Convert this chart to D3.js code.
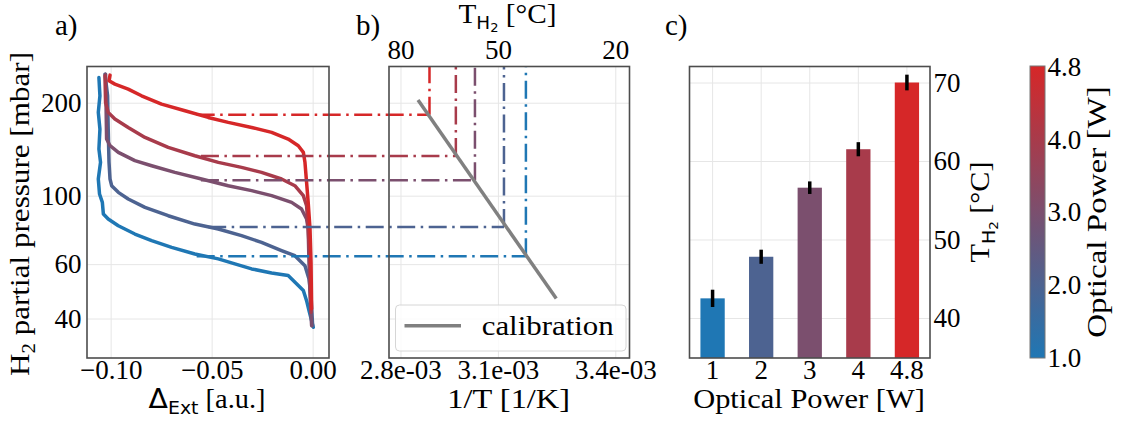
<!DOCTYPE html>
<html>
<head>
<meta charset="utf-8">
<script src="https://cdn.jsdelivr.net/npm/d3@7"></script>
<style>
    body { margin: 0; background: #fff; }
    text { font-family: "Liberation Serif", "Times New Roman", serif; fill: #000; }
</style>
</head>
<body>
<svg id="fig" width="1126" height="421"></svg>
<script>
// --- data ---
var powers = [1, 2, 3, 4, 4.8];
var powerLabels = ["1", "2", "3", "4", "4.8"];
var tempMean = [42.5, 47.8, 56.6, 61.5, 70.0];
var tempErr = [1.1, 0.9, 0.8, 0.9, 1.0];

// a) extinction change vs H2 partial pressure, one curve per optical power
var pres1 = [241.4, 210.6, 186.1, 164.3, 141.6, 128.2, 113.2, 101.2, 95.1, 87.2, 84.0, 79.9, 75.1, 71.5, 68.0, 64.7, 62.4, 60.1, 57.9, 56.2, 55.1, 53.1, 49.3, 45.7, 42.4, 37.5];
var ext1 = [-0.1058, -0.1053, -0.1061, -0.1053, -0.1058, -0.1050, -0.1061, -0.1055, -0.1041, -0.1036, -0.1012, -0.0962, -0.0880, -0.0797, -0.0698, -0.0583, -0.0467, -0.0385, -0.0302, -0.0203, -0.0121, -0.0096, -0.0046, -0.0030, -0.0018, 0.0003];
var pres2 = [247.5, 210.6, 164.3, 128.2, 113.2, 107.7, 102.5, 97.5, 91.6, 86.1, 80.9, 78.0, 74.2, 70.6, 66.4, 63.9, 59.3, 53.7, 47.5, 37.9];
var ext2 = [-0.1028, -0.1015, -0.1012, -0.1008, -0.1003, -0.0995, -0.0962, -0.0913, -0.0830, -0.0715, -0.0583, -0.0467, -0.0352, -0.0253, -0.0154, -0.0088, -0.0038, -0.0018, -0.0008, 0.0000];
var pres3 = [247.5, 152.5, 145.1, 138.1, 129.8, 125.0, 119.0, 113.2, 107.7, 103.8, 100.0, 95.1, 90.5, 84.0, 78.0, 60.8, 47.5, 37.9];
var ext3 = [-0.1025, -0.1020, -0.1003, -0.0962, -0.0880, -0.0797, -0.0682, -0.0550, -0.0418, -0.0302, -0.0203, -0.0104, -0.0055, -0.0030, -0.0022, -0.0018, -0.0013, -0.0005];
var pres4 = [244.5, 200.4, 186.1, 177.0, 166.3, 154.4, 143.3, 134.7, 128.2, 123.5, 119.0, 113.2, 107.7, 100.0, 92.8, 78.0, 60.8, 41.9];
var ext4 = [-0.1028, -0.1025, -0.1012, -0.0979, -0.0913, -0.0830, -0.0715, -0.0583, -0.0467, -0.0352, -0.0253, -0.0154, -0.0088, -0.0046, -0.0030, -0.0022, -0.0013, -0.0008];
var pres5 = [245.7, 235.5, 229.7, 221.3, 210.6, 197.9, 188.4, 179.2, 172.7, 166.3, 160.3, 152.5, 145.1, 138.1, 128.2, 110.4, 95.1, 78.0, 60.8, 43.0];
var ext5 = [-0.1003, -0.1008, -0.0979, -0.0913, -0.0847, -0.0748, -0.0632, -0.0517, -0.0418, -0.0302, -0.0203, -0.0121, -0.0071, -0.0046, -0.0038, -0.0030, -0.0022, -0.0013, -0.0008, -0.0005];

// transition points and the temperatures they map to
var midPressure = [63.6, 79.1, 112.1, 134.3, 182.9];
var midExt = [-0.0574, -0.0517, -0.0553, -0.0553, -0.0574];
var fitTemp = [42.3, 48.3, 56.6, 62.3, 70.5];

// b) calibration line
var calInvT = [2.879e-3, 3.252e-3];
var calPressure = [203.9, 46.4];

var pressureTicks = [40, 60, 100, 200];
var extTicks = [-0.10, -0.05, 0.00];
var tempTicks = [80, 50, 20];
var barTicks = [40, 50, 60, 70];
var cbarLabels = ["1.0", "2.0", "3.0", "4.0", "4.8"];

// --- layout ---
var plotTop = 66.5, plotBottom = 358;
var serif = '"Liberation Serif", "Times New Roman", serif';
var sans = '"DejaVu Sans", sans-serif';
var tickFont = 27;
var gridColor = '#e6e6e6';
var spineColor = '#4d4d4d';

var svg = d3.select('#fig');
svg.append('rect').attr('width', 1126).attr('height', 421).attr('fill', '#fff');

var colorOf = function(i) {
    return d3.interpolateRgb('#1f77b4', '#d62728')(i / (powers.length - 1));
};
var kelvin = function(c) { return 1 / (c + 273.15); };

var yP = d3.scaleLog().domain([29.8, 262]).range([plotBottom, plotTop]);
var xA = d3.scaleLinear().domain([-0.1117, 0.0081]).range([87, 329]);
var xB = d3.scaleLinear().domain([2.8007e-3, 3.4496e-3]).range([389, 629.5]);
var xC = d3.scaleBand().domain(powerLabels).range([689.5, 930]).paddingInner(0.5).paddingOuter(0.225);
var yC = d3.scaleLinear().domain([34.9, 72.04]).range([plotBottom, plotTop]);
var yBar = d3.scalePoint().domain(cbarLabels).range([plotBottom, plotTop]);

function styleAxis(g, size) {
    g.select('.domain').remove();
    g.attr('font-family', serif).attr('font-size', size || tickFont);
    g.selectAll('text').attr('fill', '#000');
    return g;
}

function drawGrid(xScale, xVals, yScale, yVals, x0, x1) {
    var g = svg.append('g');
    var gx = g.append('g').attr('transform', 'translate(0,' + plotBottom + ')')
        .call(d3.axisBottom(xScale).tickValues(xVals).tickSize(-(plotBottom - plotTop)).tickFormat(''));
    var gy = g.append('g').attr('transform', 'translate(' + x0 + ',0)')
        .call(d3.axisLeft(yScale).tickValues(yVals).tickSize(-(x1 - x0)).tickFormat(''));
    [gx, gy].forEach(function(a) {
        a.select('.domain').remove();
        a.selectAll('line').attr('stroke', gridColor).attr('stroke-width', 1);
    });
}

function drawSpine(x0, x1) {
    svg.append('rect').attr('x', x0).attr('y', plotTop)
        .attr('width', x1 - x0).attr('height', plotBottom - plotTop)
        .attr('fill', 'none').attr('stroke', spineColor).attr('stroke-width', 1.6);
}

// ---------- a) ----------
drawGrid(xA, extTicks, yP, pressureTicks, 87, 329);

var curves = [[pres1, ext1], [pres2, ext2], [pres3, ext3], [pres4, ext4], [pres5, ext5]];
var line = d3.line().x(function(d) { return xA(d[1]); }).y(function(d) { return yP(d[0]); });
curves.forEach(function(c, i) {
    var pts = c[0].map(function(p, k) { return [p, c[1][k]]; });
    svg.append('path').datum(pts).attr('d', line)
        .attr('fill', 'none').attr('stroke', colorOf(i))
        .attr('stroke-width', 3.5).attr('stroke-linejoin', 'round').attr('stroke-linecap', 'round');
});

styleAxis(svg.append('g').attr('transform', 'translate(87,0)')
    .call(d3.axisLeft(yP).tickValues(pressureTicks).tickFormat(d3.format('d')).tickSize(0).tickPadding(5.5)));
styleAxis(svg.append('g').attr('transform', 'translate(0,' + plotBottom + ')')
    .call(d3.axisBottom(xA).tickValues(extTicks).tickFormat(d3.format('.2f')).tickSize(0).tickPadding(2)));

// ---------- b) ----------
drawGrid(xB, tempTicks.map(kelvin), yP, pressureTicks, 389, 629.5);

// dash-dot guides: from the transition in a) over to the calibration, then up to the top axis
var dash = '18,5.5,2.5,5.5';
midPressure.forEach(function(p, i) {
    var xe = xB(kelvin(fitTemp[i]));
    svg.append('line')
        .attr('x1', xA(midExt[i])).attr('x2', xe)
        .attr('y1', yP(p)).attr('y2', yP(p))
        .attr('stroke', colorOf(i)).attr('stroke-width', 2.5).attr('stroke-dasharray', dash);
    svg.append('line')
        .attr('x1', xe).attr('x2', xe)
        .attr('y1', yP(p)).attr('y2', plotTop)
        .attr('stroke', colorOf(i)).attr('stroke-width', 2.5).attr('stroke-dasharray', dash);
});

svg.append('line')
    .attr('x1', xB(calInvT[0])).attr('y1', yP(calPressure[0]))
    .attr('x2', xB(calInvT[1])).attr('y2', yP(calPressure[1]))
    .attr('stroke', '#808080').attr('stroke-width', 3.5);

var expFormat = function(d) {
    var parts = d.toExponential(1).split('e');
    var e = +parts[1];
    return parts[0] + 'e' + (e < 0 ? '-' : '+') + (Math.abs(e) < 10 ? '0' : '') + Math.abs(e);
};
styleAxis(svg.append('g').attr('transform', 'translate(0,' + plotBottom + ')')
    .call(d3.axisBottom(xB).tickValues(tempTicks.map(kelvin)).tickFormat(expFormat).tickSize(0).tickPadding(2)));
styleAxis(svg.append('g').attr('transform', 'translate(0,' + plotTop + ')')
    .call(d3.axisTop(xB).tickValues(tempTicks.map(kelvin))
        .tickFormat(function(d) { return Math.round(1 / d - 273.15); }).tickSize(0).tickPadding(8)));

// legend
var leg = svg.append('g');
leg.append('rect').attr('x', 395.5).attr('y', 305).attr('width', 230.5).attr('height', 46).attr('rx', 4)
    .attr('fill', '#fff').attr('fill-opacity', 0.8).attr('stroke', '#d6d6d6').attr('stroke-width', 1);
leg.append('line').attr('x1', 404.5).attr('x2', 461).attr('y1', 325.7).attr('y2', 325.7)
    .attr('stroke', '#808080').attr('stroke-width', 3.5);
leg.append('text').attr('x', 481.7).attr('y', 335).attr('font-size', 27)
    .attr('textLength', 132).attr('lengthAdjust', 'spacingAndGlyphs').text('calibration');

// ---------- c) ----------
drawGrid(xC, powerLabels, yC, barTicks, 689.5, 930);

svg.append('g').selectAll('rect').data(tempMean).enter().append('rect')
    .attr('x', function(d, i) { return xC(powerLabels[i]); })
    .attr('width', xC.bandwidth())
    .attr('y', function(d) { return yC(d); })
    .attr('height', function(d) { return plotBottom - yC(d); })
    .attr('fill', function(d, i) { return colorOf(i); });

svg.append('g').selectAll('line').data(tempMean).enter().append('line')
    .attr('x1', function(d, i) { return xC(powerLabels[i]) + xC.bandwidth() / 2; })
    .attr('x2', function(d, i) { return xC(powerLabels[i]) + xC.bandwidth() / 2; })
    .attr('y1', function(d, i) { return yC(d - tempErr[i]); })
    .attr('y2', function(d, i) { return yC(d + tempErr[i]); })
    .attr('stroke', '#000').attr('stroke-width', 3.5);

styleAxis(svg.append('g').attr('transform', 'translate(930,0)')
    .call(d3.axisRight(yC).tickValues(barTicks).tickSize(0).tickPadding(3.5)));
styleAxis(svg.append('g').attr('transform', 'translate(0,' + plotBottom + ')')
    .call(d3.axisBottom(xC).tickSize(0).tickPadding(2)));

drawSpine(87, 329);
drawSpine(389, 629.5);
drawSpine(689.5, 930);

// ---------- colorbar ----------
var grad = svg.append('defs').append('linearGradient').attr('id', 'cbar')
    .attr('x1', 0).attr('y1', 1).attr('x2', 0).attr('y2', 0);
d3.range(0, 1.0001, 0.05).forEach(function(t) {
    grad.append('stop').attr('offset', t).attr('stop-color', d3.interpolateRgb('#1f77b4', '#d62728')(t));
});
svg.append('rect').attr('x', 1030).attr('y', 66).attr('width', 15).attr('height', plotBottom - 66)
    .attr('fill', 'url(#cbar)').attr('stroke', '#777').attr('stroke-width', 1);
styleAxis(svg.append('g').attr('transform', 'translate(1045,0)')
    .call(d3.axisRight(yBar).tickSize(0).tickPadding(2.5)));

// ---------- labels ----------
function label(x, y, size, str) {
    return svg.append('text').attr('x', x).attr('y', y).attr('font-size', size).text(str);
}
label(55, 35, 29, 'a)');
label(356, 35, 29, 'b)');
label(665, 35, 29, 'c)');

function thLabel(t) {
    // T with a sans-serif H2 subscript, then [°C]
    t.append('tspan').text('T');
    t.append('tspan').attr('font-family', sans).attr('font-size', 17).attr('dy', 6).text('H');
    t.append('tspan').attr('font-family', sans).attr('font-size', 12).attr('dy', 3).text('2');
    t.append('tspan').attr('dy', -9).text(' [°C]');
    return t;
}
thLabel(svg.append('text').attr('x', 507.5).attr('y', 23).attr('font-size', 27)
    .attr('text-anchor', 'middle').attr('textLength', 98).attr('lengthAdjust', 'spacingAndGlyphs'));
thLabel(svg.append('text').attr('transform', 'translate(989,212) rotate(-90)').attr('font-size', 27)
    .attr('text-anchor', 'middle').attr('textLength', 101).attr('lengthAdjust', 'spacingAndGlyphs'));

var yl = svg.append('text').attr('transform', 'translate(28.5,214) rotate(-90)').attr('font-size', 27)
    .attr('text-anchor', 'middle').attr('textLength', 324).attr('lengthAdjust', 'spacingAndGlyphs');
yl.append('tspan').text('H');
yl.append('tspan').attr('font-size', 18).attr('dy', 6).text('2');
yl.append('tspan').attr('dy', -6).text(' partial pressure [mbar]');

var xl = svg.append('text').attr('x', 207).attr('y', 408).attr('font-size', 27)
    .attr('text-anchor', 'middle').attr('textLength', 117).attr('lengthAdjust', 'spacingAndGlyphs');
xl.append('tspan').attr('font-family', sans).text('Δ');
xl.append('tspan').attr('font-family', sans).attr('font-size', 18).attr('dy', 6).text('Ext');
xl.append('tspan').attr('dy', -6).text(' [a.u.]');

label(508.7, 408, 27, '1/T [1/K]').attr('text-anchor', 'middle')
    .attr('textLength', 122.7).attr('lengthAdjust', 'spacingAndGlyphs');
label(809, 408, 27, 'Optical Power [W]').attr('text-anchor', 'middle')
    .attr('textLength', 231.7).attr('lengthAdjust', 'spacingAndGlyphs');
svg.append('text').attr('transform', 'translate(1106,212) rotate(-90)').attr('font-size', 28)
    .attr('text-anchor', 'middle').attr('textLength', 251.7).attr('lengthAdjust', 'spacingAndGlyphs')
    .text('Optical Power [W]');
</script>
</body>
</html>
